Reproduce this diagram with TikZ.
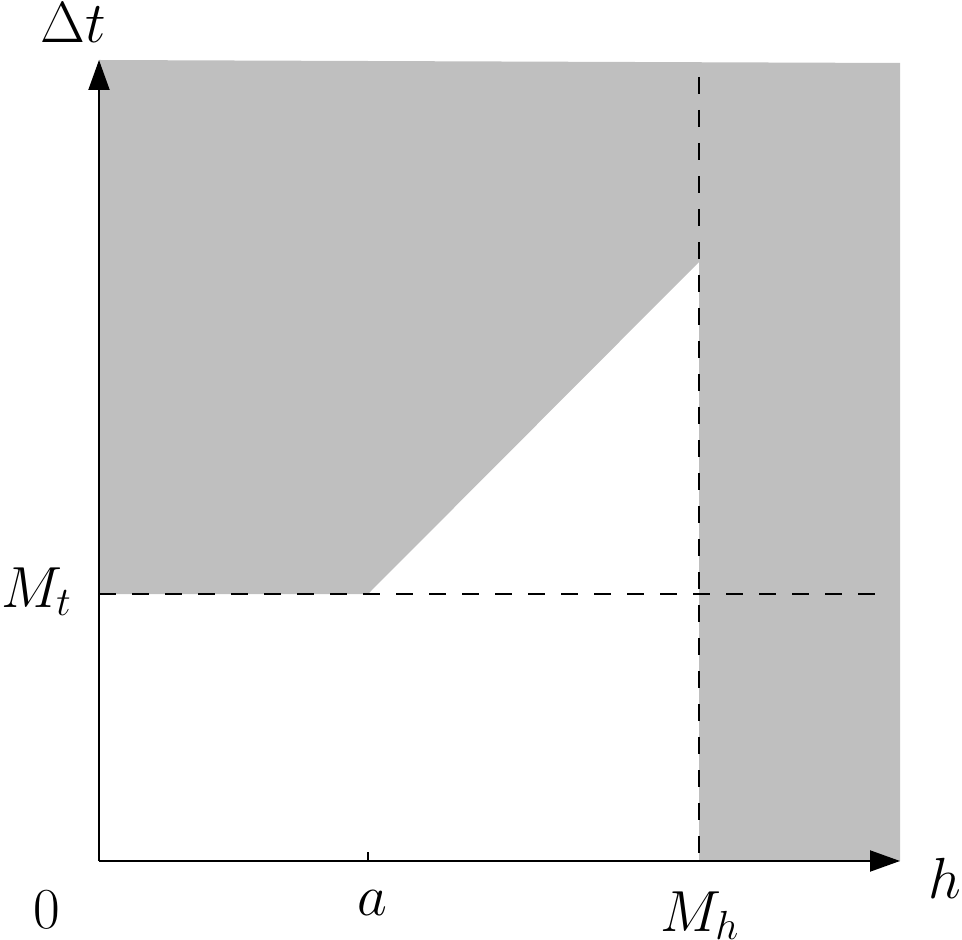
\RequirePackage{fix-cm}
\documentclass[tikz,border=0pt]{standalone}
\usetikzlibrary{arrows.meta}
\definecolor{regiongray}{RGB}{191,191,191}
\begin{document}
\begin{tikzpicture}[x=0.5pt,y=-0.5pt,
  region/.style={fill=regiongray,draw=none},
  axis/.style={line width=1pt,-{Triangle[length=15pt,width=10.5pt]}},
  guide/.style={line width=0.9pt,dash pattern=on 8.5pt off 8pt},
  lab/.style={inner sep=0pt,font=\fontsize{29}{35}\selectfont}]
\useasboundingbox (0,0) rectangle (962,940);
\fill[region] (99,60) -- (900,63) -- (900,861) -- (699,861) -- (699,262) -- (368,594) -- (99,594) -- cycle;
\coordinate (O) at (99,861);
\coordinate (ytop) at (99,60);
\coordinate (xend) at (900,861);
\coordinate (mt0) at (99,594);
\coordinate (mt1) at (885,594);
\coordinate (mh0) at (699,77);
\coordinate (mh1) at (699,861);
\coordinate (ta0) at (368,852);
\coordinate (ta1) at (368,861);
\draw[guide] (mt0) -- (mt1);
\draw[guide] (mh0) -- (mh1);
\draw[line width=1pt] (ta0) -- (ta1);
\draw[axis] (O) -- (ytop);
\draw[axis] (O) -- (xend);
\node[lab,anchor=base west] (dt) at (40,43) {$\Delta t$};
\node[lab,anchor=base west] (Mt) at (1,607) {$M_t$};
\node[lab,anchor=base] (zero) at (47,928) {$0$};
\node[lab,anchor=base] (a) at (372,915) {$a$};
\node[lab,anchor=base west] (Mh) at (660,931) {$M_h$};
\node[lab,anchor=base west] (h) at (928,898) {$h$};
\end{tikzpicture}
\end{document}
